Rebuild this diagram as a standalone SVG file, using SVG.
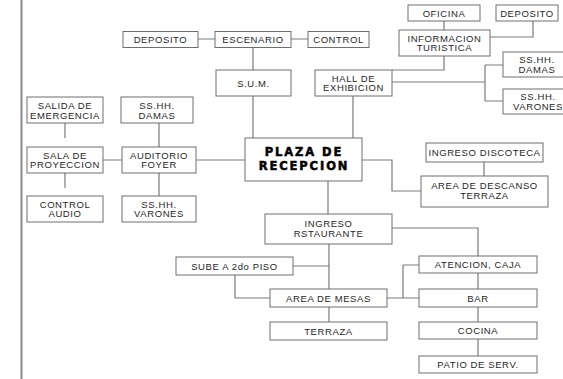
<svg xmlns="http://www.w3.org/2000/svg" width="563" height="379" viewBox="0 0 563 379">
<style>
.b{fill:#fff;stroke:#6e6e6e;stroke-width:1}
.t{font-family:"Liberation Sans",Arial,sans-serif;font-size:9.5px;fill:#262626;text-anchor:middle;letter-spacing:0.6px}
.c{fill:none;stroke:#7a7a7a;stroke-width:1.2}
.h{font-family:"DejaVu Sans",sans-serif;font-weight:bold;font-size:11.5px;fill:#000;stroke:#000;stroke-width:0.5;text-anchor:middle;letter-spacing:1.9px}
</style>
<rect width="563" height="379" fill="#fff"/>
<line x1="21.5" y1="0" x2="21.5" y2="379" stroke="#8a8a8a" stroke-width="2"/>
<g id="connectors" class="c">
<path d="M198 39H215M291 39H308"/>
<path d="M253 47V70M253 96V138M353 96V138"/>
<path d="M444 21V30M533 21V37H490M444 56V70H392"/>
<path d="M392 82H485M485 65V101M485 65H503M485 101H503"/>
<path d="M65 123V138M65 173V188M103 160H122M159 123V147M159 173V196M196 160H245"/>
<path d="M362 160H392V191H421M484 162V176"/>
<path d="M328 181V214M392 228H478V256M478 273V289M478 307V322M478 339V356"/>
<path d="M329 244V289M329 307V322M293 266H329M235 275V298H270"/>
<path d="M387 298H419M403 265V298M403 265H419"/>
</g>
<g id="deposito1"><rect class="b" x="123" y="31.5" width="75" height="16"/><text class="t" x="160.5" y="43">DEPOSITO</text></g>
<g id="escenario"><rect class="b" x="215" y="31.5" width="76" height="16"/><text class="t" x="253" y="43">ESCENARIO</text></g>
<g id="control"><rect class="b" x="308" y="31.5" width="61" height="16"/><text class="t" x="338.5" y="43">CONTROL</text></g>
<g id="sum"><rect class="b" x="216" y="70" width="75" height="26"/><text class="t" x="253.5" y="86.5">S.U.M.</text></g>
<g id="hall"><rect class="b" x="315" y="70" width="77" height="26"/><text class="t" x="353.5" y="81.5">HALL DE</text><text class="t" x="353.5" y="91">EXHIBICION</text></g>
<g id="oficina"><rect class="b" x="408" y="5" width="72" height="16"/><text class="t" x="444" y="16.5">OFICINA</text></g>
<g id="deposito2"><rect class="b" x="496" y="5" width="62" height="16"/><text class="t" x="527" y="16.5">DEPOSITO</text></g>
<g id="informacion"><rect class="b" x="399" y="30" width="91" height="26"/><text class="t" x="444.5" y="41.5">INFORMACION</text><text class="t" x="444.5" y="51">TURISTICA</text></g>
<g id="sshh-damas-r"><rect class="b" x="503" y="52" width="68" height="25"/><text class="t" x="537" y="63">SS.HH.</text><text class="t" x="537" y="72.5">DAMAS</text></g>
<g id="sshh-varones-r"><rect class="b" x="503" y="89" width="68" height="25"/><text class="t" x="538" y="100">SS.HH.</text><text class="t" x="538" y="109.5">VARONES</text></g>
<g id="salida"><rect class="b" x="27" y="97" width="76" height="26"/><text class="t" x="65" y="109">SALIDA DE</text><text class="t" x="65" y="118.5">EMERGENCIA</text></g>
<g id="sshh-damas-l"><rect class="b" x="121" y="97" width="72" height="26"/><text class="t" x="157" y="109">SS.HH.</text><text class="t" x="157" y="118.5">DAMAS</text></g>
<g id="sala"><rect class="b" x="27" y="147" width="76" height="26"/><text class="t" x="65" y="158.5">SALA DE</text><text class="t" x="65" y="168">PROYECCION</text></g>
<g id="auditorio"><rect class="b" x="122" y="147" width="74" height="26"/><text class="t" x="159" y="158.5">AUDITORIO</text><text class="t" x="159" y="168">FOYER</text></g>
<g id="control-audio"><rect class="b" x="27" y="196" width="76" height="26"/><text class="t" x="65" y="207.5">CONTROL</text><text class="t" x="65" y="217">AUDIO</text></g>
<g id="sshh-varones-l"><rect class="b" x="122" y="196" width="74" height="26"/><text class="t" x="159" y="207.5">SS.HH.</text><text class="t" x="159" y="217">VARONES</text></g>
<g id="plaza"><rect class="b" x="245" y="138" width="117" height="43" stroke-width="1.2"/><text class="h" x="304" y="156">PLAZA DE</text><text class="h" x="304" y="169.5">RECEPCION</text></g>
<g id="ingreso-discoteca"><rect class="b" x="426" y="143" width="117" height="19"/><text class="t" x="484.5" y="156">INGRESO DISCOTECA</text></g>
<g id="area-descanso"><rect class="b" x="421" y="176" width="127" height="31"/><text class="t" x="484.5" y="189">AREA DE DESCANSO</text><text class="t" x="484.5" y="198.5">TERRAZA</text></g>
<g id="ingreso-restaurante"><rect class="b" x="265" y="214" width="127" height="30"/><text class="t" x="328.5" y="227">INGRESO</text><text class="t" x="328.5" y="236.5">RSTAURANTE</text></g>
<g id="sube"><rect class="b" x="176" y="257" width="117" height="18"/><text class="t" x="234.5" y="269.5">SUBE A 2do PISO</text></g>
<g id="area-mesas"><rect class="b" x="270" y="289" width="117" height="18"/><text class="t" x="328.5" y="301.5">AREA DE MESAS</text></g>
<g id="terraza"><rect class="b" x="270" y="322" width="117" height="18"/><text class="t" x="328.5" y="334.5">TERRAZA</text></g>
<g id="atencion"><rect class="b" x="419" y="256" width="118" height="17"/><text class="t" x="478" y="268">ATENCION, CAJA</text></g>
<g id="bar"><rect class="b" x="419" y="289" width="118" height="18"/><text class="t" x="478" y="301.5">BAR</text></g>
<g id="cocina"><rect class="b" x="419" y="322" width="118" height="17"/><text class="t" x="478" y="334">COCINA</text></g>
<g id="patio"><rect class="b" x="419" y="356" width="118" height="17"/><text class="t" x="478" y="368">PATIO DE SERV.</text></g>
</svg>
